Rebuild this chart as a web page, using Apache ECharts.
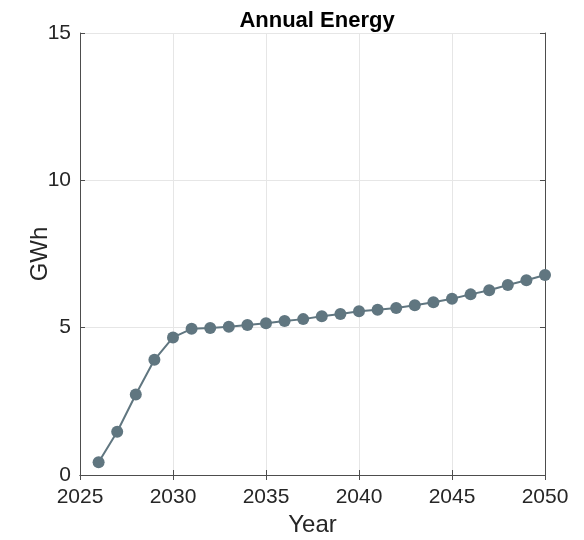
<!DOCTYPE html>
<html>
<head>
<meta charset="utf-8">
<script src="https://cdn.jsdelivr.net/npm/echarts@6/dist/echarts.min.js"></script>
<style>
  html, body { margin: 0; padding: 0; background: #fff; }
  #main { width: 584px; height: 540px; }
</style>
</head>
<body>
<div id="main"></div>
<script>
var years = [2026, 2027, 2028, 2029, 2030, 2031, 2032, 2033, 2034, 2035, 2036, 2037, 2038,
  2039, 2040, 2041, 2042, 2043, 2044, 2045, 2046, 2047, 2048, 2049, 2050];
var energy = [0.43, 1.47, 2.73, 3.91, 4.67, 4.96, 4.99, 5.03, 5.09, 5.15, 5.23, 5.29, 5.39,
  5.46, 5.56, 5.61, 5.67, 5.76, 5.86, 5.98, 6.13, 6.27, 6.45, 6.61, 6.79];

var dom = document.getElementById('main');
var myChart = echarts.init(dom);

var font = 'Liberation Sans, Arial, sans-serif';
var axisColor = '#262626';
var points = years.map(function (y, i) { return [y, energy[i]]; });

var option = {
  backgroundColor: '#fff',
  animation: false,
  title: {
    text: 'Annual Energy',
    left: 312, top: 5, textAlign: 'center',
    textStyle: { fontFamily: font, fontSize: 22, fontWeight: 'bold', color: '#000' }
  },
  grid: { left: 80, right: 39, top: 33, bottom: 65, outerBoundsMode: 'none' },
  xAxis: [{
    type: 'value', min: 2025, max: 2050, interval: 5,
    name: 'Year', nameLocation: 'middle', nameGap: 38, nameMoveOverlap: false,
    nameTextStyle: { fontFamily: font, fontSize: 24, color: axisColor },
    axisLine: { lineStyle: { color: '#4d4d4d', width: 1 } },
    axisTick: { inside: true, length: 5, lineStyle: { color: '#4d4d4d' } },
    axisLabel: { fontFamily: font, fontSize: 21, color: axisColor, margin: 12,
      formatter: function (v) { return String(v); } },
    splitLine: { show: true, lineStyle: { color: '#e6e6e6', width: 1 } }
  }, {
    type: 'value', min: 2025, max: 2050, interval: 5, position: 'top',
    axisLine: { lineStyle: { color: '#4d4d4d', width: 1 } },
    axisTick: { inside: true, length: 5, lineStyle: { color: '#4d4d4d' } },
    axisLabel: { show: false }, splitLine: { show: false }
  }],
  yAxis: [{
    type: 'value', min: 0, max: 15, interval: 5,
    name: 'GWh', nameLocation: 'middle', nameGap: 28, nameMoveOverlap: false,
    nameTextStyle: { fontFamily: font, fontSize: 24, color: axisColor },
    axisLine: { show: true, lineStyle: { color: '#4d4d4d', width: 1 } },
    axisTick: { show: true, inside: true, length: 5, lineStyle: { color: '#4d4d4d' } },
    axisLabel: { fontFamily: font, fontSize: 21, color: axisColor, margin: 9 },
    splitLine: { show: true, lineStyle: { color: '#e6e6e6', width: 1 } }
  }, {
    type: 'value', min: 0, max: 15, interval: 5, position: 'right',
    axisLine: { show: true, lineStyle: { color: '#4d4d4d', width: 1 } },
    axisTick: { show: true, inside: true, length: 5, lineStyle: { color: '#4d4d4d' } },
    axisLabel: { show: false }, splitLine: { show: false }
  }],
  series: [{
    type: 'line',
    data: points,
    symbol: 'circle',
    symbolSize: 12,
    lineStyle: { color: '#607680', width: 2 },
    itemStyle: { color: '#607680' }
  }]
};

myChart.setOption(option);
</script>
</body>
</html>
